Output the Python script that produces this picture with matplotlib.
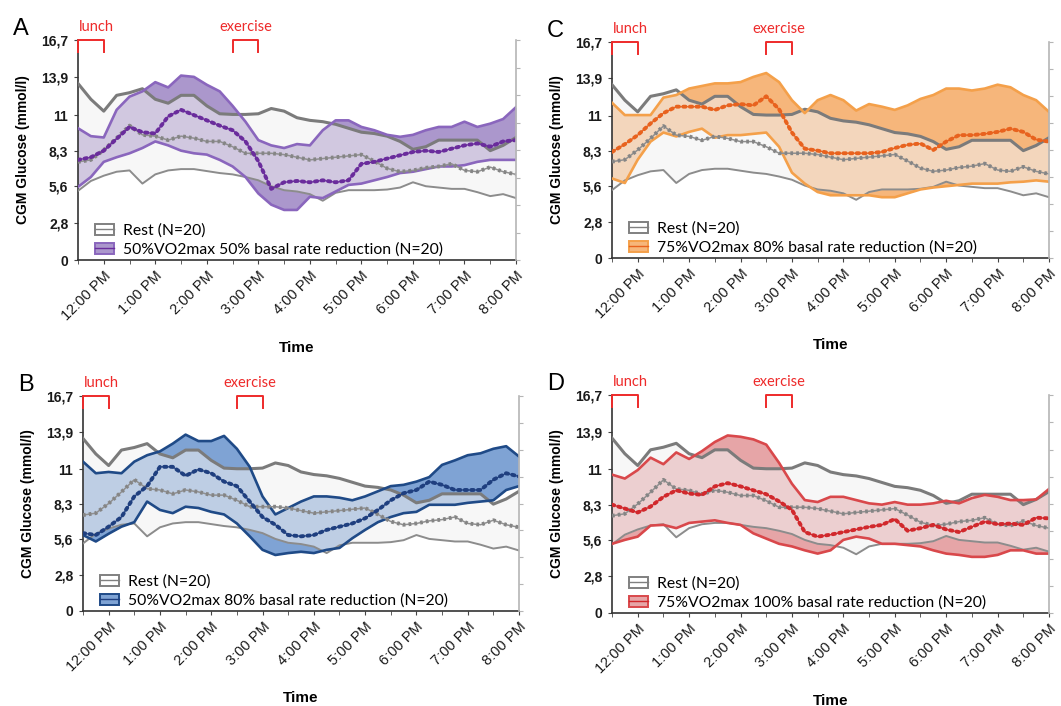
import numpy as np
import matplotlib
matplotlib.use('Agg')
import matplotlib.pyplot as plt
import matplotlib.transforms as mtransforms
from matplotlib.patches import Patch
from matplotlib.lines import Line2D

plt.rcParams['font.family'] = ['Liberation Sans', 'DejaVu Sans']

# CGM samples every 15 min, 11:30 AM -> 8:00 PM
hours = np.arange(11.5, 20.01, 0.25)
hour_ticks = [12, 13, 14, 15, 16, 17, 18, 19, 20]
hour_labels = ['12:00 PM', '1:00 PM', '2:00 PM', '3:00 PM', '4:00 PM',
               '5:00 PM', '6:00 PM', '7:00 PM', '8:00 PM']
glu_ticks = [0, 2.8, 5.6, 8.3, 11, 13.9, 16.7]
glu_labels = ['0', '2,8', '5,6', '8,3', '11', '13,9', '16,7']
lunch = (11.5, 12.0)
exercise = (14.5, 15.0)

# rest day (same in all panels)
rest_upper = [13.4, 12.2, 11.3, 12.5, 12.7, 13.0, 12.2, 11.9, 12.5, 12.5, 11.7, 11.1,
              11.05, 11.05, 11.1, 11.5, 11.3, 10.8, 10.6, 10.5, 10.3, 10.0, 9.7, 9.6,
              9.4, 9.0, 8.4, 8.6, 9.1, 9.1, 9.1, 9.1, 8.3, 8.7, 9.3]
rest_mean = [7.45, 7.6, 8.35, 9.25, 10.2, 9.5, 9.4, 9.1, 9.4, 9.25, 9.0, 9.0,
             8.6, 8.1, 8.1, 8.1, 8.0, 7.8, 7.6, 7.7, 7.8, 7.9, 8.0, 7.5,
             6.95, 6.7, 6.8, 7.0, 7.1, 7.3, 6.8, 6.7, 7.05, 6.7, 6.5]
rest_lower = [5.25, 6.0, 6.4, 6.7, 6.8, 5.8, 6.5, 6.8, 6.9, 6.9, 6.75, 6.6,
              6.5, 6.3, 6.05, 5.6, 5.3, 5.2, 5.0, 4.5, 5.1, 5.3, 5.3, 5.3,
              5.35, 5.5, 5.9, 5.6, 5.5, 5.4, 5.4, 5.15, 4.85, 5.0, 4.7]

# A: 50%VO2max, 50% basal reduction
a_upper = [10.0, 9.4, 9.3, 11.4, 12.4, 12.8, 13.5, 13.1, 14.0, 13.9, 13.3, 12.8,
           11.7, 10.5, 9.1, 8.7, 8.5, 8.8, 8.7, 9.85, 10.6, 10.6, 10.1, 9.85,
           9.5, 9.35, 9.5, 9.85, 10.1, 10.1, 10.5, 10.1, 10.35, 10.7, 11.6]
a_mean = [7.6, 7.8, 8.3, 9.2, 10.1, 9.7, 9.6, 10.9, 11.4, 11.0, 10.6, 10.2,
          9.85, 9.0, 7.5, 5.4, 5.9, 6.0, 5.9, 6.05, 5.9, 6.05, 7.3, 7.45,
          7.7, 7.95, 8.2, 8.3, 8.2, 8.45, 8.7, 8.85, 8.6, 9.0, 9.1]
a_lower = [5.55, 6.3, 7.45, 7.8, 8.1, 8.5, 9.0, 8.7, 8.3, 8.1, 8.0, 7.6,
           7.1, 6.3, 5.05, 4.2, 3.8, 3.8, 4.8, 4.7, 5.2, 5.7, 5.8, 6.05,
           6.3, 6.6, 6.7, 6.9, 7.1, 7.1, 7.2, 7.45, 7.6, 7.6, 7.6]

# B: 50%VO2max, 80% basal reduction
b_upper = [11.6, 10.7, 10.8, 10.7, 11.6, 12.1, 12.4, 13.0, 13.7, 13.2, 13.2, 13.6,
           12.6, 11.2, 8.9, 7.5, 8.0, 8.5, 8.9, 8.9, 8.8, 8.6, 8.9, 9.3,
           9.7, 9.8, 10.05, 10.4, 11.35, 11.7, 12.1, 12.25, 12.6, 12.8, 12.0]
b_mean = [6.05, 5.9, 6.55, 7.3, 8.9, 9.7, 11.2, 11.2, 10.5, 11.0, 10.7, 10.05,
          9.7, 8.5, 7.3, 6.7, 5.9, 5.8, 5.9, 6.3, 6.55, 6.8, 7.2, 7.85,
          8.6, 9.15, 9.4, 10.05, 9.8, 9.4, 9.4, 9.4, 10.2, 10.7, 10.45]
b_lower = [5.9, 5.4, 6.0, 6.55, 6.9, 8.5, 7.85, 7.6, 8.1, 8.0, 7.7, 7.5,
           6.8, 5.8, 4.75, 4.35, 4.5, 4.6, 4.5, 4.75, 4.9, 5.65, 6.3, 6.9,
           7.3, 7.6, 7.7, 8.25, 8.25, 8.25, 8.4, 8.5, 8.6, 9.4, 9.7]

# C: 75%VO2max, 80% basal reduction
c_upper = [12.0, 11.05, 11.05, 11.05, 12.4, 12.6, 13.1, 13.3, 13.5, 13.5, 13.6, 14.0,
           14.3, 13.6, 12.2, 11.2, 12.2, 12.6, 12.2, 11.4, 11.9, 11.7, 11.45, 11.8,
           12.3, 12.6, 13.1, 13.1, 12.95, 13.1, 13.4, 13.2, 12.6, 12.2, 11.3]
c_mean = [8.2, 8.8, 9.5, 10.4, 11.2, 11.7, 11.7, 11.7, 11.45, 11.8, 11.9, 11.8,
          12.5, 11.5, 9.7, 8.45, 8.3, 8.1, 8.1, 8.1, 8.1, 8.2, 8.5, 8.75,
          8.85, 8.35, 9.0, 9.5, 9.5, 9.6, 9.75, 10.0, 9.75, 9.15, 9.0]
c_lower = [6.15, 5.8, 7.6, 9.0, 9.7, 9.4, 9.75, 10.0, 9.3, 9.5, 9.5, 9.6,
           9.7, 8.6, 6.6, 5.75, 5.1, 4.85, 4.85, 4.85, 4.85, 4.7, 4.7, 5.0,
           5.3, 5.45, 5.55, 5.65, 5.75, 5.75, 5.75, 5.85, 5.9, 6.0, 5.9]

# D: 75%VO2max, 100% basal reduction
d_upper = [10.6, 10.3, 10.95, 11.9, 11.4, 12.3, 11.8, 12.4, 13.1, 13.6, 13.5, 13.3,
           12.9, 11.5, 9.9, 8.65, 8.5, 8.9, 8.9, 8.65, 8.4, 8.3, 8.5, 8.3,
           8.3, 8.4, 8.6, 8.4, 8.8, 9.05, 8.9, 8.65, 8.65, 8.7, 9.5]
d_mean = [8.3, 8.0, 7.7, 8.15, 8.9, 9.4, 9.15, 9.05, 9.7, 9.95, 9.7, 9.4,
          9.1, 8.55, 7.9, 6.2, 5.85, 6.0, 6.2, 6.4, 6.6, 6.75, 7.2, 6.3,
          6.5, 6.75, 6.4, 6.2, 6.6, 7.0, 6.8, 6.85, 6.75, 7.3, 7.25]
d_lower = [5.3, 5.6, 5.85, 6.7, 6.75, 6.5, 6.9, 7.0, 7.1, 6.9, 6.75, 6.1,
           5.7, 5.3, 5.1, 4.8, 4.55, 4.8, 5.6, 5.85, 5.7, 5.3, 5.3, 5.2,
           5.1, 4.8, 4.55, 4.45, 4.3, 4.3, 4.45, 4.8, 4.8, 4.55, 4.55]

W, H = 1061, 706
fig = plt.figure(figsize=(W / 100, H / 100), dpi=100)


def add_ax(left, right, top, bottom):
    return fig.add_axes([left / W, 1 - bottom / H, (right - left) / W, (bottom - top) / H])


def panel(ax, letter, upper, mean, lower, fill, edge, mcol, label):
    ax.fill_between(hours, lower, upper, color=fill, lw=0, zorder=1)
    ax.fill_between(hours, rest_lower, rest_upper, color='#f2f2f2', alpha=0.55, lw=0, zorder=2)
    ax.plot(hours, rest_upper, color='#7b7b7b', lw=2.2, zorder=3)
    ax.plot(hours, rest_lower, color='#8c8c8c', lw=1.4, zorder=3)
    ax.plot(hours, upper, color=edge, lw=1.9, zorder=3)
    ax.plot(hours, lower, color=edge, lw=1.9, zorder=3)
    ax.plot(hours, rest_mean, color='#909090', lw=1.1, zorder=4)
    ax.plot(hours, rest_mean, color='#858585', lw=2.8, ls=(0, (0.7, 0.8)), zorder=4)
    ax.plot(hours, mean, color=mcol, lw=0.8, zorder=5)
    ax.plot(hours, mean, color=mcol, lw=2.8, ls=(0, (0.6, 1.1)),
            dash_capstyle='round', zorder=5)

    ax.set_xlim(11.5, 20)
    ax.set_ylim(0, 16.7)
    ax.set_xticks(hour_ticks)
    ax.set_xticklabels(hour_labels, rotation=45, ha='right', rotation_mode='anchor',
                       fontsize=10.5, color='#1a1a1a')
    ax.set_xticks(np.arange(11.5, 20, 1.0), minor=True)
    ax.tick_params(axis='x', which='both', direction='out', length=3, color='#444444', pad=3)
    ax.set_yticks(glu_ticks)
    ax.set_yticklabels(glu_labels, fontsize=10, fontweight='bold', color='#1a1a1a')
    ax.tick_params(axis='y', direction='out', length=3, color='#444444', pad=4)
    for s in ['top', 'right']:
        ax.spines[s].set_visible(False)
    for s in ['left', 'bottom']:
        ax.spines[s].set_color('#333333')
        ax.spines[s].set_linewidth(1.2)

    # secondary axis on the right, no labels
    ax2 = ax.twinx()
    ax2.set_ylim(0, 8)
    ax2.set_yticks(range(9))
    ax2.set_yticklabels([])
    ax2.tick_params(axis='y', direction='out', length=3, color='#b5b5b5')
    for s in ['top', 'left', 'bottom']:
        ax2.spines[s].set_visible(False)
    ax2.spines['right'].set_color('#b5b5b5')
    ax2.spines['right'].set_linewidth(1.2)

    # lunch / exercise brackets
    tr = mtransforms.blended_transform_factory(ax.transData, ax.transAxes)
    for (x0, x1), txt in [(lunch, 'lunch'), (exercise, 'exercise')]:
        ax.plot([x0, x0, x1, x1], [0.945, 1.0, 1.0, 0.945], transform=tr, color='#ee2a2a',
                lw=1.4, clip_on=False, zorder=6)
    ax.text(lunch[0] + 0.02, 1.06, 'lunch', transform=tr, color='#ee2a2a', fontsize=10.5,
            ha='left', va='center', family=['Lato', 'DejaVu Sans'])
    ax.text(sum(exercise) / 2, 1.06, 'exercise', transform=tr, color='#ee2a2a', fontsize=10.5,
            ha='center', va='center', family=['Lato', 'DejaVu Sans'])

    h_rest = (Patch(facecolor='white', edgecolor='#808080', lw=1.4),
              Line2D([], [], color='#808080', lw=1.0))
    h_ex = (Patch(facecolor=fill, edgecolor=edge, lw=1.4),
            Line2D([], [], color=mcol, lw=1.0))
    ax.legend([h_rest, h_ex], ['Rest (N=20)', label], loc='lower left',
              bbox_to_anchor=(0.025, -0.015), frameon=False, handlelength=1.2, handleheight=0.75,
              handletextpad=0.55, labelspacing=0.3, borderaxespad=0.0,
              prop={'family': ['Lato', 'DejaVu Sans'], 'size': 11.3})

    ax.set_ylabel('CGM Glucose (mmol/l)', fontsize=10, fontweight='bold', labelpad=8)
    ax.set_xlabel('Time', fontsize=11, fontweight='bold')
    ax.xaxis.set_label_coords(0.5, -0.37)
    ax.text(-0.13, 1.05, letter, transform=ax.transAxes, fontsize=17, ha='center', va='center')


axA = add_ax(78, 516, 40, 260)
axB = add_ax(83, 519, 396, 611)
axC = add_ax(612, 1049, 42, 258)
axD = add_ax(612, 1049, 395, 613)

panel(axA, 'A', a_upper, a_mean, a_lower, '#ab97cc', '#8a66bd', '#6a2c9c',
      '50%VO2max 50% basal rate reduction (N=20)')
panel(axB, 'B', b_upper, b_mean, b_lower, '#7fa3d4', '#1f4a87', '#1f3f7f',
      '50%VO2max 80% basal rate reduction (N=20)')
panel(axC, 'C', c_upper, c_mean, c_lower, '#f6b67b', '#f4a04a', '#e8621e',
      '75%VO2max 80% basal rate reduction (N=20)')
panel(axD, 'D', d_upper, d_mean, d_lower, '#e6a5a7', '#d9484b', '#d1282c',
      '75%VO2max 100% basal rate reduction (N=20)')

fig.savefig('out.png', dpi=100)
